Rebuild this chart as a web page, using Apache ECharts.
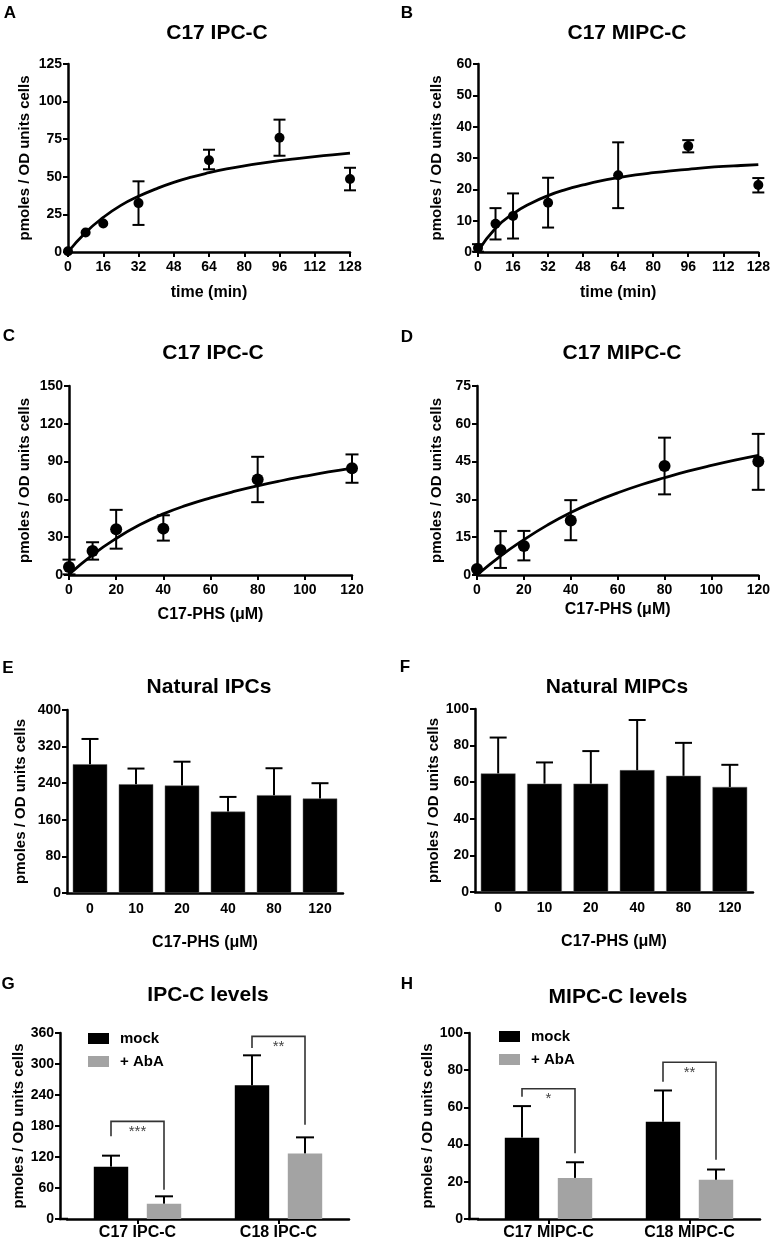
<!DOCTYPE html>
<html>
<head>
<meta charset="utf-8">
<script src="https://cdn.jsdelivr.net/npm/echarts@6/dist/echarts.min.js"></script>
<style>
html,body{margin:0;padding:0;background:#fff;}
#chart{width:773px;height:1244px;}
</style>
</head>
<body>
<div id="chart"></div>
<script>
// ---------------- DATA ----------------
const yAxisTitle = 'pmoles / OD units cells';

// Panel A: C17 IPC-C vs time
const timePoints = [0, 8, 16, 32, 64, 96, 128];
const aMean = [0.5, 13, 19, 32.5, 61, 76, 48.5];
const aLow  = [null, null, null, 18, 55, 64, 41];
const aHigh = [null, null, null, 47, 68, 88, 56];
const aFitX = [0, 8, 16, 24, 32, 40, 48, 56, 64, 72, 80, 88, 96, 104, 112, 120, 128];
const aFitY = [0, 13, 23, 31, 37, 42, 46.3, 49.8, 52.7, 55.2, 57.3, 59.1, 60.7, 62.1, 63.4, 64.6, 65.7];

// Panel B: C17 MIPC-C vs time
const bMean = [1.3, 9, 11.5, 15.7, 24.5, 33.8, 21.4];
const bLow  = [0.1, 4, 4.3, 7.8, 14, 31.8, 19];
const bHigh = [2.5, 14, 18.7, 23.7, 35, 35.7, 23.6];
const bFitX = [0, 8, 16, 24, 32, 40, 48, 56, 64, 72, 80, 88, 96, 104, 112, 120, 128];
const bFitY = [0.3, 7.6, 12.2, 15.5, 18, 19.9, 21.4, 22.7, 23.7, 24.6, 25.3, 25.9, 26.4, 26.9, 27.3, 27.6, 27.9];

// Panel C: C17 IPC-C vs C17-PHS
const dosePoints = [0, 10, 20, 40, 80, 120];
const cMean = [6.4, 19, 36.3, 36.8, 75.8, 84.8];
const cLow  = [0.5, 12.2, 20.9, 27.3, 57.8, 73.2];
const cHigh = [12.2, 26, 51.7, 47.4, 93.8, 95.7];
const cFitX = [0, 10, 20, 30, 40, 50, 60, 70, 80, 90, 100, 110, 120];
const cFitY = [0.5, 16, 29, 39.8, 48.5, 55.4, 61.2, 66.3, 70.8, 74.8, 78.4, 81.8, 84.9];

// Panel D: C17 MIPC-C vs C17-PHS
const dMean = [2.4, 9.9, 11.5, 21.6, 43.3, 45];
const dLow  = [null, 2.8, 5.8, 13.8, 32, 33.8];
const dHigh = [null, 17.4, 17.5, 29.7, 54.5, 56];
const dFitX = [0, 10, 20, 30, 40, 50, 60, 70, 80, 90, 100, 110, 120];
const dFitY = [0, 7.5, 14, 19.8, 24.8, 29, 32.6, 35.8, 38.6, 41.2, 43.5, 45.6, 47.5];

// Panels E / F: natural IPCs / MIPCs
const doseCats = ['0', '10', '20', '40', '80', '120'];
const eMean = [281.5, 237.8, 235, 178, 213.8, 206.5];
const eTop  = [336.7, 272, 287, 210, 272.7, 240];
const fMean = [64.8, 59.2, 59.2, 66.6, 63.5, 57.4];
const fTop  = [84.4, 70.8, 77, 94, 81.5, 69.5];

// Panels G / H: mock vs + AbA
const gCats = ['C17 IPC-C', 'C18 IPC-C'];
const gMock = [101.3, 258.7];
const gMockTop = [122.6, 316.8];
const gAba = [29.7, 127];
const gAbaTop = [43.9, 158];
const gSig = ['***', '**'];
const gBracketLevel = [189, 353.5];
const gBracketLeftEnd = [160, 331];
const gBracketRightEnd = [56.8, 182.6];

const hCats = ['C17 MIPC-C', 'C18 MIPC-C'];
const hMock = [43.75, 52.3];
const hMockTop = [60.7, 69.1];
const hAba = [22.1, 21.1];
const hAbaTop = [30.5, 26.6];
const hSig = ['*', '**'];
const hBracketLevel = [70, 84.3];
const hBracketLeftEnd = [65.7, 73.75];
const hBracketRightEnd = [35.4, 31.8];

// ---------------- STYLE / LAYOUT ----------------
const FONT = '"Liberation Sans", Arial, Helvetica, sans-serif';
const BLACK = '#000';
const GRAY = '#a3a3a3';

const grids = [
  {left: 68,  top: 64,   width: 282, height: 188}, // A
  {left: 478, top: 64,   width: 283, height: 188}, // B
  {left: 69,  top: 386,  width: 283, height: 189}, // C
  {left: 477, top: 386,  width: 283, height: 189}, // D
  {left: 67,  top: 710,  width: 276, height: 183}, // E
  {left: 475, top: 709,  width: 278, height: 183}, // F
  {left: 67,  top: 1033, width: 282, height: 186}, // G
  {left: 478, top: 1033, width: 282, height: 186}  // H
];

const axisLineStyle = {show: true, lineStyle: {color: BLACK, width: 2.5}};
const tickStyle = {show: true, length: 5, lineStyle: {color: BLACK, width: 2}};
const labelStyle = (margin, size) => ({color: BLACK, fontWeight: 'bold', fontSize: size || 14, fontFamily: FONT, margin: margin});

function yAxis(gi, max, interval, nameGap, offset) {
  return {
    type: 'value', gridIndex: gi, min: 0, max: max, interval: interval,
    offset: offset || 0,
    axisLine: axisLineStyle, axisTick: tickStyle, splitLine: {show: false},
    axisLabel: labelStyle(6),
    name: yAxisTitle, nameLocation: 'middle', nameGap: nameGap, nameRotate: 90,
    nameTextStyle: {color: BLACK, fontWeight: 'bold', fontSize: 15, fontFamily: FONT}
  };
}
function xValueAxis(gi, max, interval, name, nameGap) {
  return {
    type: 'value', gridIndex: gi, min: 0, max: max, interval: interval,
    axisLine: axisLineStyle, axisTick: tickStyle, splitLine: {show: false},
    axisLabel: labelStyle(8),
    name: name, nameLocation: 'middle', nameGap: nameGap,
    nameTextStyle: {color: BLACK, fontWeight: 'bold', fontSize: 16, fontFamily: FONT}
  };
}
function xCatAxis(gi, cats, opts) {
  return Object.assign({
    type: 'category', gridIndex: gi, data: cats,
    axisLine: axisLineStyle, splitLine: {show: false}
  }, opts);
}

// ---------------- RENDERERS ----------------
function errRender(capW) {
  return function (params, api) {
    const x = api.value(0), lo = api.value(1), hi = api.value(2);
    const pLo = api.coord([x, lo]), pHi = api.coord([x, hi]);
    const st = {stroke: BLACK, lineWidth: 2, fill: null};
    return {type: 'group', children: [
      {type: 'line', shape: {x1: pLo[0], y1: pLo[1], x2: pHi[0], y2: pHi[1]}, style: st},
      {type: 'line', shape: {x1: pLo[0] - capW / 2, y1: pLo[1], x2: pLo[0] + capW / 2, y2: pLo[1]}, style: st},
      {type: 'line', shape: {x1: pHi[0] - capW / 2, y1: pHi[1], x2: pHi[0] + capW / 2, y2: pHi[1]}, style: st}
    ]};
  };
}
function errData(xs, lo, hi) {
  const out = [];
  xs.forEach((x, i) => { if (lo[i] != null && hi[i] != null) out.push([x, lo[i], hi[i]]); });
  return out;
}

// grouped bar geometry for G/H
const GROUP_CAT_GAP = 0.38;   // barCategoryGap
const GROUP_BAR_GAP = 0.54;   // barGap
const groupBarW = (1 - GROUP_CAT_GAP) / (2 + GROUP_BAR_GAP);
const groupOffset = groupBarW * (1 + GROUP_BAR_GAP) / 2; // fraction of category width

function barErrRender(offsetSign, capW) {
  return function (params, api) {
    const c = api.value(0), v = api.value(1), t = api.value(2);
    const catW = api.size([1, 0])[0];
    const dx = offsetSign * groupOffset * catW;
    const p0 = api.coord([c, v]), p1 = api.coord([c, t]);
    const x = p0[0] + dx;
    const st = {stroke: BLACK, lineWidth: 2, fill: null};
    return {type: 'group', children: [
      {type: 'line', shape: {x1: x, y1: p0[1], x2: x, y2: p1[1]}, style: st},
      {type: 'line', shape: {x1: x - capW / 2, y1: p1[1], x2: x + capW / 2, y2: p1[1]}, style: st}
    ]};
  };
}
function bracketRender(labels) {
  return function (params, api) {
    const c = api.value(0), lvl = api.value(1), le = api.value(2), re = api.value(3);
    const catW = api.size([1, 0])[0];
    const center = api.coord([c, lvl]);
    const lx = center[0] - groupOffset * catW, rx = center[0] + groupOffset * catW;
    const yl = center[1];
    const yle = api.coord([c, le])[1], yre = api.coord([c, re])[1];
    return {type: 'group', children: [
      {type: 'polyline', shape: {points: [[lx, yle], [lx, yl], [rx, yl], [rx, yre]]},
       style: {stroke: '#333', lineWidth: 1.6, fill: null}},
      {type: 'text', x: center[0], y: yl + 3,
       style: {text: labels[params.dataIndex], fill: '#444', font: '15px ' + FONT, textAlign: 'center', textVerticalAlign: 'top'}}
    ]};
  };
}

// ---------------- BUILD ----------------
const zip = (xs, ys) => xs.map((x, i) => [x, ys[i]]);

const series = [];
function addScatterPanel(gi, xs, mean, lo, hi, fitX, fitY, dot, cap) {
  series.push({type: 'line', xAxisIndex: gi, yAxisIndex: gi, data: zip(fitX, fitY),
    smooth: 0.5, showSymbol: false, symbol: 'none',
    lineStyle: {color: BLACK, width: 2.8}, z: 2, silent: true});
  series.push({type: 'custom', xAxisIndex: gi, yAxisIndex: gi, data: errData(xs, lo, hi),
    renderItem: errRender(cap), z: 3, silent: true});
  series.push({type: 'scatter', xAxisIndex: gi, yAxisIndex: gi, data: zip(xs, mean),
    symbol: 'circle', symbolSize: dot, itemStyle: {color: BLACK, opacity: 1}, z: 4});
}
addScatterPanel(0, timePoints, aMean, aLow, aHigh, aFitX, aFitY, 10, 12);
addScatterPanel(1, timePoints, bMean, bLow, bHigh, bFitX, bFitY, 10, 12);
addScatterPanel(2, dosePoints, cMean, cLow, cHigh, cFitX, cFitY, 12, 13);
addScatterPanel(3, dosePoints, dMean, dLow, dHigh, dFitX, dFitY, 12, 13);

function addSimpleBars(gi, mean, top) {
  series.push({type: 'bar', xAxisIndex: gi, yAxisIndex: gi, data: mean,
    barCategoryGap: '25%', itemStyle: {color: BLACK, borderColor: '#666', borderWidth: 0.5}, z: 2});
  series.push({type: 'custom', xAxisIndex: gi, yAxisIndex: gi,
    data: mean.map((v, i) => [i, v, top[i]]), renderItem: barErrRender(0, 17), z: 3, silent: true});
}
addSimpleBars(4, eMean, eTop);
addSimpleBars(5, fMean, fTop);

function addGroupedBars(gi, mock, mockTop, aba, abaTop, lvl, le, re, sig) {
  series.push({type: 'bar', name: 'mock', xAxisIndex: gi, yAxisIndex: gi, data: mock,
    barCategoryGap: (GROUP_CAT_GAP * 100) + '%', barGap: (GROUP_BAR_GAP * 100) + '%',
    itemStyle: {color: BLACK}, z: 2});
  series.push({type: 'bar', name: '+ AbA', xAxisIndex: gi, yAxisIndex: gi, data: aba,
    barCategoryGap: (GROUP_CAT_GAP * 100) + '%', barGap: (GROUP_BAR_GAP * 100) + '%',
    itemStyle: {color: GRAY}, z: 2});
  series.push({type: 'custom', xAxisIndex: gi, yAxisIndex: gi,
    data: mock.map((v, i) => [i, v, mockTop[i]]), renderItem: barErrRender(-1, 18), z: 3, silent: true});
  series.push({type: 'custom', xAxisIndex: gi, yAxisIndex: gi,
    data: aba.map((v, i) => [i, v, abaTop[i]]), renderItem: barErrRender(1, 18), z: 3, silent: true});
  series.push({type: 'custom', xAxisIndex: gi, yAxisIndex: gi,
    data: lvl.map((v, i) => [i, v, le[i], re[i]]), renderItem: bracketRender(sig), z: 3, silent: true});
}
addGroupedBars(6, gMock, gMockTop, gAba, gAbaTop, gBracketLevel, gBracketLeftEnd, gBracketRightEnd, gSig);
addGroupedBars(7, hMock, hMockTop, hAba, hAbaTop, hBracketLevel, hBracketLeftEnd, hBracketRightEnd, hSig);

const catLabelE = {show: true, interval: 0, color: BLACK, fontWeight: 'bold', fontSize: 14, fontFamily: FONT, margin: 9};
const catLabelG = {show: true, interval: 0, color: BLACK, fontWeight: 'bold', fontSize: 16, fontFamily: FONT, margin: 6};
const xNameStyle = {color: BLACK, fontWeight: 'bold', fontSize: 16, fontFamily: FONT};

const xAxes = [
  xValueAxis(0, 128, 16, 'time (min)', 33),
  xValueAxis(1, 128, 16, 'time (min)', 33),
  xValueAxis(2, 120, 20, 'C17-PHS (μM)', 32),
  xValueAxis(3, 120, 20, 'C17-PHS (μM)', 27),
  xCatAxis(4, doseCats, {axisTick: {show: false}, axisLabel: catLabelE,
    name: 'C17-PHS (μM)', nameLocation: 'middle', nameGap: 42, nameTextStyle: xNameStyle}),
  xCatAxis(5, doseCats, {axisTick: {show: false}, axisLabel: catLabelE,
    name: 'C17-PHS (μM)', nameLocation: 'middle', nameGap: 42, nameTextStyle: xNameStyle}),
  xCatAxis(6, gCats, {axisTick: {show: true, alignWithLabel: true, length: 5, lineStyle: {color: BLACK, width: 2}}, axisLabel: catLabelG}),
  xCatAxis(7, hCats, {axisTick: {show: true, alignWithLabel: true, length: 5, lineStyle: {color: BLACK, width: 2}}, axisLabel: catLabelG})
];
const yAxes = [
  yAxis(0, 125, 25, 35.5),
  yAxis(1, 60, 10, 34),
  yAxis(2, 150, 30, 36.5),
  yAxis(3, 75, 15, 33),
  yAxis(4, 400, 80, 39),
  yAxis(5, 100, 20, 27.5),
  yAxis(6, 360, 60, 32.5, 7),
  yAxis(7, 100, 20, 23, 9)
];

const titleStyle = {color: BLACK, fontWeight: 'bold', fontSize: 21, fontFamily: FONT};
const letterStyle = {color: BLACK, fontWeight: 'bold', fontSize: 17, fontFamily: FONT};
function ttl(text, x, y, style) {
  return {text: text, left: x, top: y, textAlign: 'center', textVerticalAlign: 'middle', textStyle: style, padding: 0};
}
const titles = [
  ttl('C17 IPC-C', 217, 33, titleStyle),
  ttl('C17 MIPC-C', 627, 33, titleStyle),
  ttl('C17 IPC-C', 213, 353, titleStyle),
  ttl('C17 MIPC-C', 622, 353, titleStyle),
  ttl('Natural IPCs', 209, 687, titleStyle),
  ttl('Natural MIPCs', 617, 687, titleStyle),
  ttl('IPC-C levels', 208, 995, titleStyle),
  ttl('MIPC-C levels', 618, 997, titleStyle),
  ttl('A', 10, 13, letterStyle),
  ttl('B', 407, 13, letterStyle),
  ttl('C', 9, 336, letterStyle),
  ttl('D', 407, 337, letterStyle),
  ttl('E', 8, 668, letterStyle),
  ttl('F', 405, 667, letterStyle),
  ttl('G', 8, 984, letterStyle),
  ttl('H', 407, 984, letterStyle)
];

const legendBase = {orient: 'vertical', data: ['mock', '+ AbA'], icon: 'rect',
  itemWidth: 21, itemHeight: 11, itemGap: 8, padding: 0,
  textStyle: {color: BLACK, fontWeight: 'bold', fontSize: 15, fontFamily: FONT, padding: [0, 0, 0, 6]},
  selectedMode: false};

const option = {
  backgroundColor: '#fff',
  animation: false,
  title: titles,
  legend: [
    Object.assign({left: 88, top: 1031}, legendBase),
    Object.assign({left: 499, top: 1029}, legendBase)
  ],
  grid: grids,
  xAxis: xAxes,
  yAxis: yAxes,
  series: series,
  graphic: [
    // join x-axis line to the offset y-axis in panels G and H
    {type: 'line', shape: {x1: 59, y1: 1219, x2: 68, y2: 1219}, style: {stroke: BLACK, lineWidth: 2.5}},
    {type: 'line', shape: {x1: 468, y1: 1219, x2: 479, y2: 1219}, style: {stroke: BLACK, lineWidth: 2.5}}
  ]
};

const chart = echarts.init(document.getElementById('chart'), null, {renderer: 'canvas'});
chart.setOption(option);
</script>
</body>
</html>
